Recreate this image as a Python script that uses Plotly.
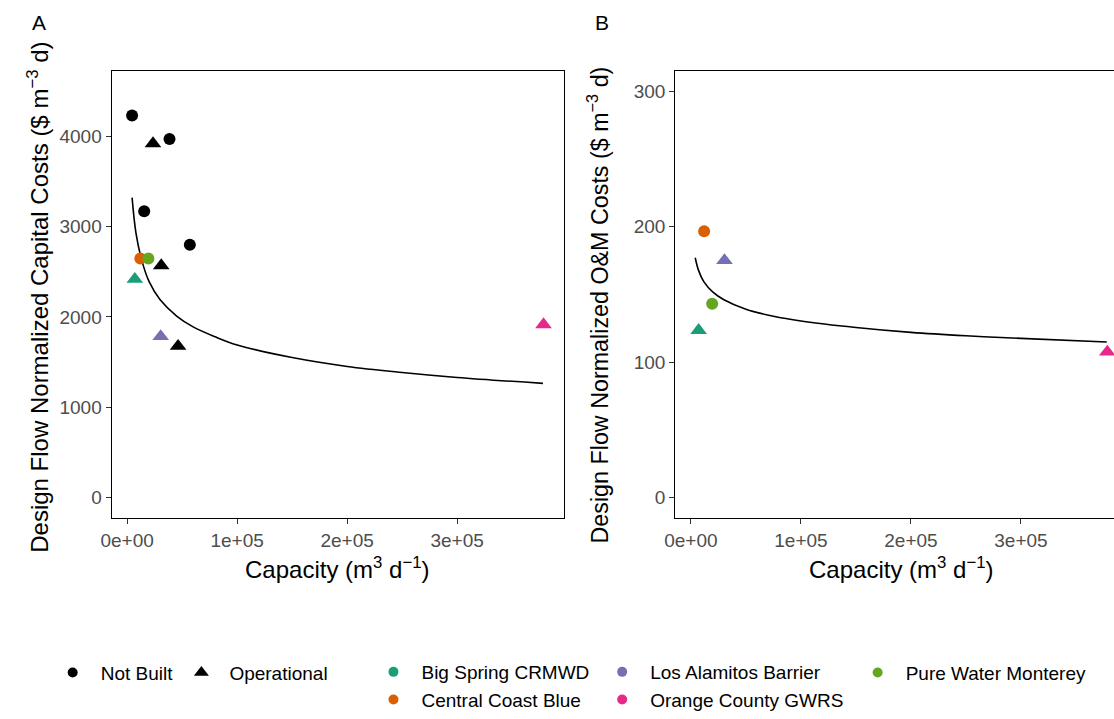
import plotly.graph_objects as go

# ---------------- data ----------------
# Unlabelled (black) projects, panel A only
not_built_capacity = [4500, 38500, 15500, 57000]
not_built_capital = [4230, 3970, 3170, 2800]
operational_capacity = [23500, 31000, 46300]
operational_capital = [3918, 2568, 1676]

# Highlighted projects
projects = ["Big Spring CRMWD", "Central Coast Blue", "Los Alamitos Barrier",
            "Orange County GWRS", "Pure Water Monterey"]
project_status = ["Operational", "Not Built", "Operational", "Operational", "Not Built"]
project_colors = ["#1B9E77", "#D95F02", "#7570B3", "#E7298A", "#66A61E"]
project_capacity = [7000, 12000, 30500, 378500, 19300]
project_capital = [2417, 2647, 1784, 1915, 2647]
project_om = [123.5, 196.5, 175.0, 107.5, 143.0]

# Fitted curves
curve_a_capacity = [4500, 8000, 13000, 20000, 30000, 45000, 60000, 80000,
                    100000, 150000, 200000, 250000, 300000, 378000]
curve_a_capital = [3320, 2930, 2640, 2390, 2190, 2010, 1890, 1780,
                   1690, 1550, 1452, 1385, 1330, 1265]
curve_b_capacity = [3900, 7000, 12000, 20000, 30000, 50000, 75000, 100000,
                    150000, 200000, 250000, 300000, 378000]
curve_b_om = [177, 167.5, 159, 151.6, 146, 139, 133.8, 130.3,
              125.5, 121.9, 119.4, 117.5, 114.8]

x_ticks = [0, 100000, 200000, 300000]
x_tick_text = ["0e+00", "1e+05", "2e+05", "3e+05"]
ya_ticks = [0, 1000, 2000, 3000, 4000]
yb_ticks = [0, 100, 200, 300]

# ---------------- style ----------------
FONT = "Liberation Sans, Arial, Helvetica, sans-serif"
TICK_COLOR = "#4D4D4D"
W, H = 1114, 719
CIRCLE = 12
TRI = 14.5
SYMBOL = {"Not Built": "circle", "Operational": "triangle-up"}
SIZE = {"Not Built": CIRCLE, "Operational": TRI}

fig = go.Figure()

# ---------- panel A ----------
fig.add_trace(go.Scatter(x=curve_a_capacity, y=curve_a_capital, mode="lines",
                         line=dict(color="black", width=1.6, shape="spline"),
                         showlegend=False, xaxis="x", yaxis="y"))
fig.add_trace(go.Scatter(x=not_built_capacity, y=not_built_capital, mode="markers",
                         marker=dict(color="black", symbol="circle", size=CIRCLE),
                         showlegend=False, xaxis="x", yaxis="y"))
fig.add_trace(go.Scatter(x=operational_capacity, y=operational_capital, mode="markers",
                         marker=dict(color="black", symbol="triangle-up", size=TRI),
                         showlegend=False, xaxis="x", yaxis="y"))
for name, st, col, cx, cy in zip(projects, project_status, project_colors,
                                 project_capacity, project_capital):
    fig.add_trace(go.Scatter(x=[cx], y=[cy], mode="markers",
                             marker=dict(color=col, symbol=SYMBOL[st], size=SIZE[st]),
                             showlegend=False, xaxis="x", yaxis="y"))

# ---------- panel B ----------
fig.add_trace(go.Scatter(x=curve_b_capacity, y=curve_b_om, mode="lines",
                         line=dict(color="black", width=1.6, shape="spline"),
                         showlegend=False, xaxis="x2", yaxis="y2"))
for name, st, col, cx, cy in zip(projects, project_status, project_colors,
                                 project_capacity, project_om):
    fig.add_trace(go.Scatter(x=[cx], y=[cy], mode="markers",
                             marker=dict(color=col, symbol=SYMBOL[st], size=SIZE[st]),
                             showlegend=False, xaxis="x2", yaxis="y2"))

# ---------- legends (one per column) ----------
fig.add_trace(go.Scatter(x=[None], y=[None], mode="markers", name="Not Built",
                         marker=dict(color="black", symbol="circle", size=10),
                         legend="legend"))
fig.add_trace(go.Scatter(x=[None], y=[None], mode="markers", name="Operational",
                         marker=dict(color="black", symbol="triangle-up", size=13),
                         legend="legend2"))
legend_for = {"Big Spring CRMWD": "legend3", "Central Coast Blue": "legend3",
              "Los Alamitos Barrier": "legend4", "Orange County GWRS": "legend4",
              "Pure Water Monterey": "legend5"}
for name, col in zip(projects, project_colors):
    fig.add_trace(go.Scatter(x=[None], y=[None], mode="markers", name=name,
                             marker=dict(color=col, symbol="circle", size=10),
                             legend=legend_for[name]))

def px_x(p):
    return p / W

def px_y(p):
    return 1 - p / H

axis_common = dict(showgrid=False, zeroline=False, showline=True, linecolor="black",
                   linewidth=1.3, ticks="outside", ticklen=5, tickwidth=1.1,
                   tickcolor="#333333",
                   tickfont=dict(family=FONT, size=19, color=TICK_COLOR))

leg_common = dict(orientation="v", xanchor="left", yanchor="middle", itemwidth=46,
                  font=dict(family=FONT, size=19, color="black"),
                  bgcolor="rgba(0,0,0,0)", borderwidth=0, tracegroupgap=0)

top_px, bot_px = 72, 527.5
fig.update_layout(
    width=W, height=H, margin=dict(l=0, r=0, t=0, b=0),
    paper_bgcolor="white", plot_bgcolor="white",
    font=dict(family=FONT),
    xaxis=dict(domain=[px_x(101.7), px_x(559)], range=[-14040, 397570],
               tickvals=x_ticks, ticktext=x_tick_text, mirror=True,
               anchor="y", **axis_common),
    yaxis=dict(domain=[px_y(bot_px), px_y(top_px)], range=[-225, 4725],
               tickvals=ya_ticks, mirror=True, anchor="x", **axis_common),
    xaxis2=dict(domain=[px_x(671), 1.0], range=[-14140, 384600],
                tickvals=x_ticks, ticktext=x_tick_text, mirror=True,
                anchor="y2", **axis_common),
    yaxis2=dict(domain=[px_y(bot_px), px_y(top_px)], range=[-15, 315],
                tickvals=yb_ticks, mirror=False, anchor="x2", **axis_common),
    legend=dict(x=px_x(34), y=px_y(685), **leg_common),
    legend2=dict(x=px_x(164), y=px_y(685), **leg_common),
    legend3=dict(x=px_x(358), y=px_y(699), **leg_common),
    legend4=dict(x=px_x(589), y=px_y(699), **leg_common),
    legend5=dict(x=px_x(847), y=px_y(685), **leg_common),
)

xtitle_font = dict(family=FONT, size=24, color="black")
ann = [
    dict(text="Design Flow Normalized Capital Costs ($ m<sup>−3</sup> d)",
         x=px_x(27), y=px_y(302.5), textangle=-90,
         font=dict(family=FONT, size=24, color="black")),
    dict(text="Design Flow Normalized O&M Costs ($ m<sup>−3</sup> d)",
         x=px_x(593), y=px_y(311), textangle=-90,
         font=dict(family=FONT, size=23.3, color="black")),
    dict(text="Capacity (m<sup>3</sup> d<sup>−1</sup>)", x=px_x(330), y=px_y(578),
         font=xtitle_font),
    dict(text="Capacity (m<sup>3</sup> d<sup>−1</sup>)", x=px_x(899), y=px_y(578),
         font=xtitle_font),
]
for a in ann:
    fig.add_annotation(xref="paper", yref="paper", showarrow=False,
                       xanchor="center", yanchor="middle", **a)
for lab, xp in [("A", 28.5), ("B", 596.7)]:
    fig.add_annotation(text=lab, xref="paper", yref="paper", x=px_x(xp), y=px_y(23),
                       showarrow=False, xanchor="center", yanchor="middle",
                       font=dict(family=FONT, size=21, color="black"))

fig.write_html("out.html")
